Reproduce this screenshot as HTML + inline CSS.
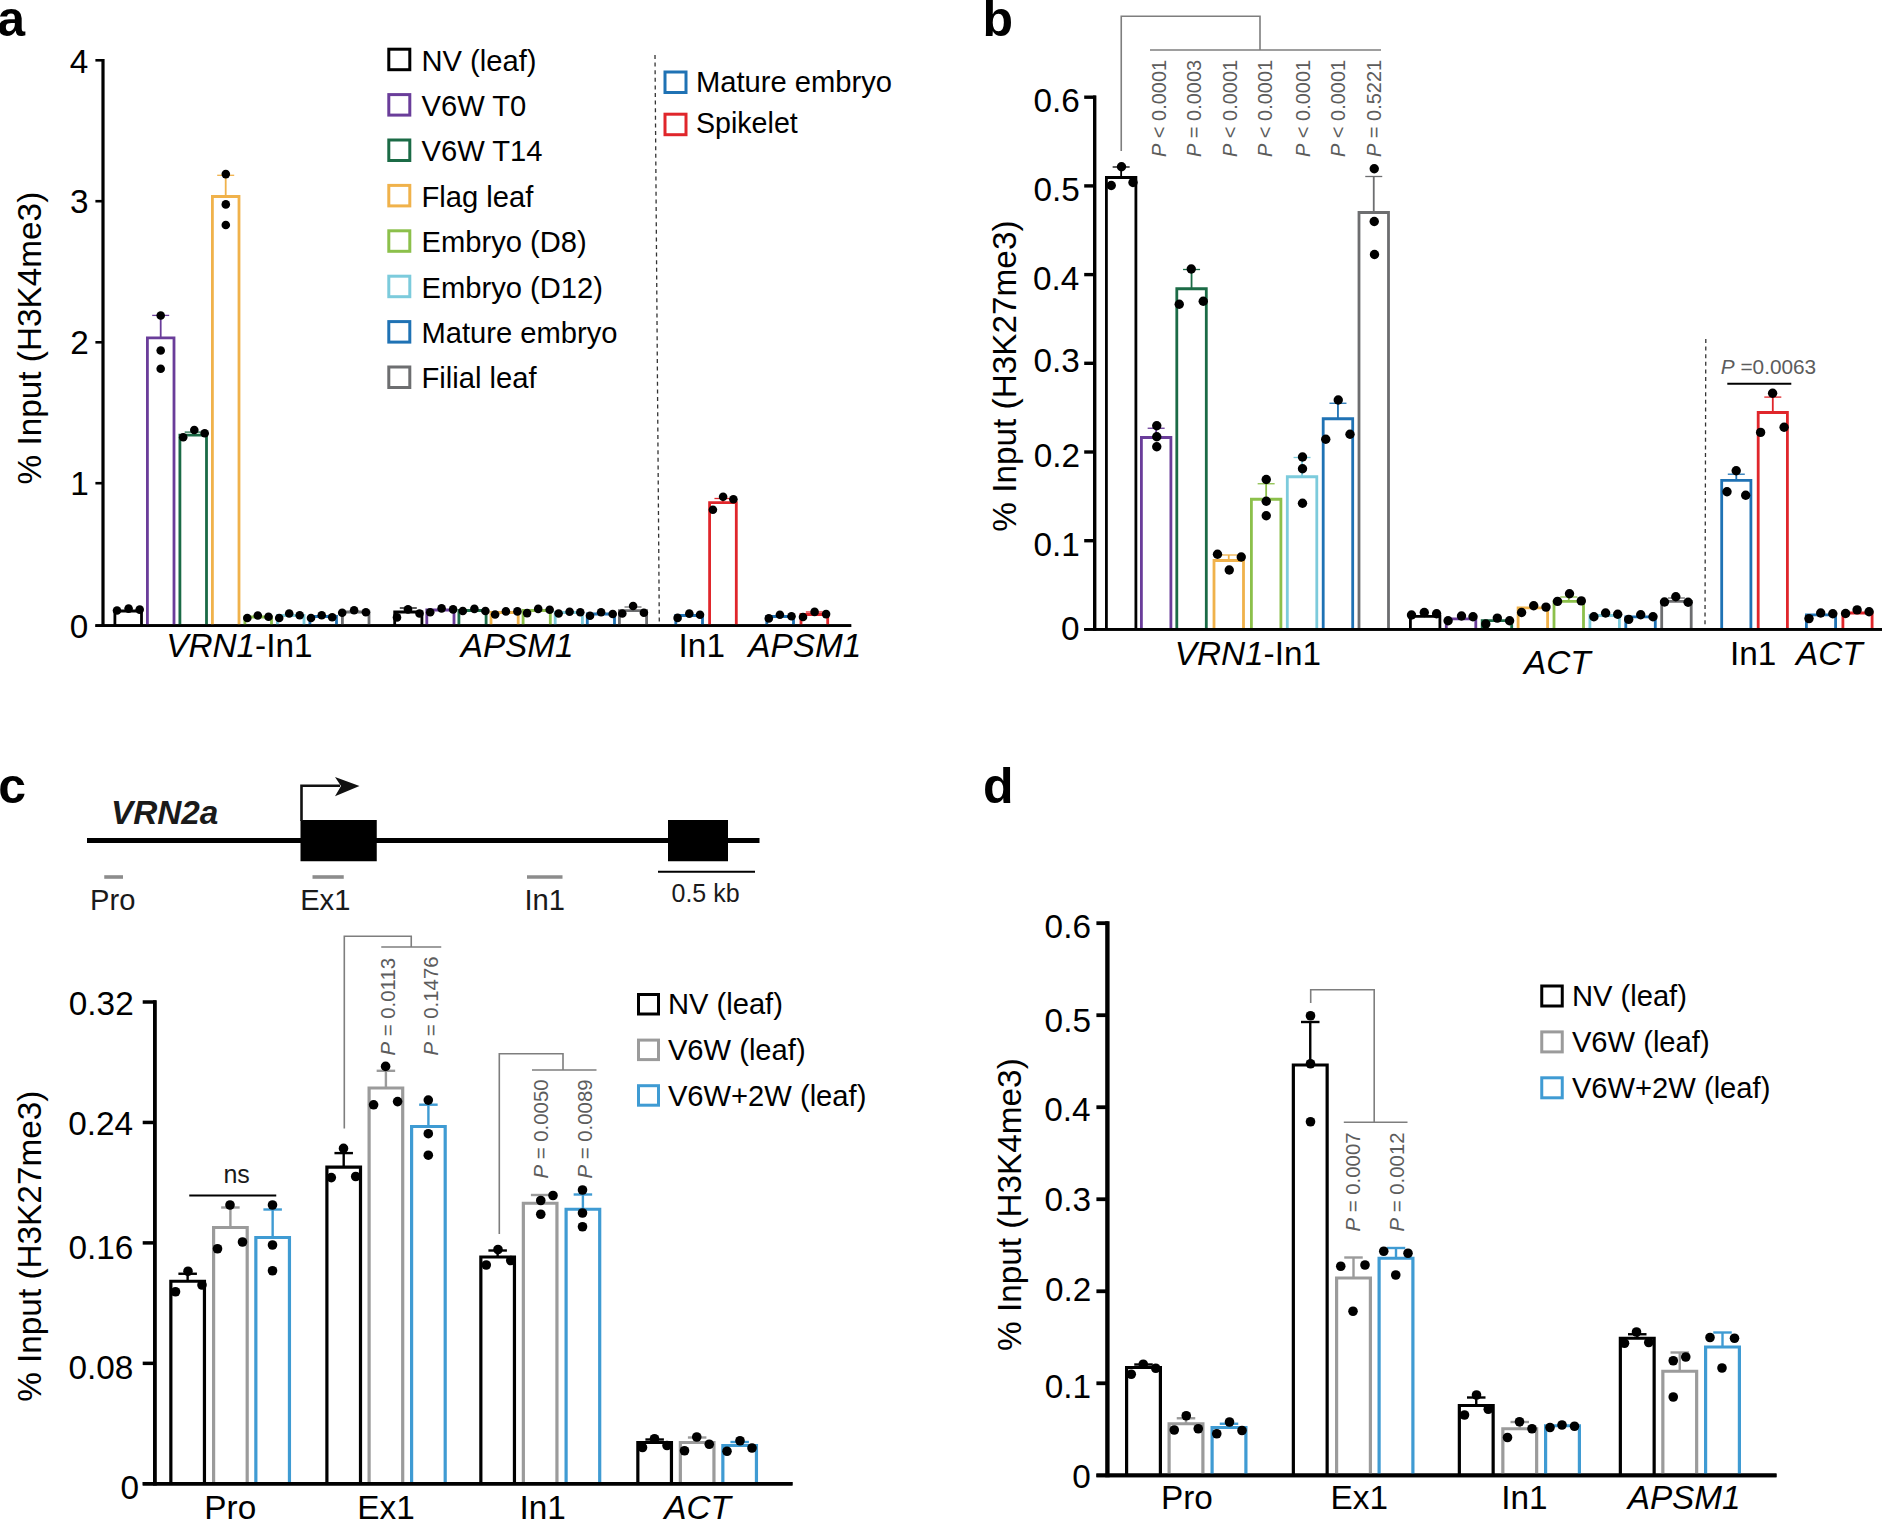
<!DOCTYPE html>
<html><head><meta charset="utf-8"><title>Figure</title>
<style>html,body{margin:0;padding:0;background:#fff}svg{display:block}text{font-family:"Liberation Sans",sans-serif}</style>
</head><body>
<svg width="1882" height="1520" viewBox="0 0 1882 1520">
<rect width="1882" height="1520" fill="#fff"/>
<line x1="103.00" y1="59.00" x2="103.00" y2="627.05" stroke="#000" stroke-width="3.20" stroke-linecap="butt"/>
<line x1="95.40" y1="625.60" x2="851.20" y2="625.60" stroke="#000" stroke-width="2.90" stroke-linecap="butt"/>
<line x1="95.40" y1="483.20" x2="104.00" y2="483.20" stroke="#000" stroke-width="2.60" stroke-linecap="butt"/>
<line x1="95.40" y1="342.30" x2="104.00" y2="342.30" stroke="#000" stroke-width="2.60" stroke-linecap="butt"/>
<line x1="95.40" y1="201.20" x2="104.00" y2="201.20" stroke="#000" stroke-width="2.60" stroke-linecap="butt"/>
<line x1="95.40" y1="60.30" x2="104.00" y2="60.30" stroke="#000" stroke-width="2.60" stroke-linecap="butt"/>
<text x="69.87" y="638.40" font-size="33.33" fill="#000" xml:space="preserve">0</text>
<text x="70.20" y="495.40" font-size="33.33" fill="#000" xml:space="preserve">1</text>
<text x="70.37" y="354.10" font-size="33.33" fill="#000" xml:space="preserve">2</text>
<text x="70.03" y="212.90" font-size="33.33" fill="#000" xml:space="preserve">3</text>
<text x="69.70" y="72.70" font-size="33.33" fill="#000" xml:space="preserve">4</text>
<text transform="translate(41.30 484.42) rotate(-90)" font-size="33.33" fill="#000" xml:space="preserve">% Input (H3K4me3)</text>
<text x="-2.80" y="35.60" font-size="50.00" fill="#000" xml:space="preserve"><tspan font-weight="bold">a</tspan></text>
<polyline points="114.90,625.60 114.90,611.00 141.50,611.00 141.50,625.60" fill="none" stroke="#000" stroke-width="2.80" stroke-linejoin="miter"/>
<polyline points="147.40,625.60 147.40,337.80 174.00,337.80 174.00,625.60" fill="none" stroke="#6a3d9a" stroke-width="2.80" stroke-linejoin="miter"/>
<line x1="160.70" y1="315.40" x2="160.70" y2="337.80" stroke="#6a3d9a" stroke-width="1.80" stroke-linecap="butt"/>
<line x1="152.20" y1="315.40" x2="169.20" y2="315.40" stroke="#6a3d9a" stroke-width="1.30" stroke-linecap="butt"/>
<polyline points="179.90,625.60 179.90,435.10 206.50,435.10 206.50,625.60" fill="none" stroke="#1b6b46" stroke-width="2.80" stroke-linejoin="miter"/>
<line x1="193.20" y1="432.10" x2="193.20" y2="435.10" stroke="#1b6b46" stroke-width="1.80" stroke-linecap="butt"/>
<line x1="184.70" y1="432.10" x2="201.70" y2="432.10" stroke="#1b6b46" stroke-width="1.30" stroke-linecap="butt"/>
<polyline points="212.40,625.60 212.40,196.50 239.00,196.50 239.00,625.60" fill="none" stroke="#f0b24b" stroke-width="2.80" stroke-linejoin="miter"/>
<line x1="225.70" y1="175.30" x2="225.70" y2="196.50" stroke="#f0b24b" stroke-width="1.80" stroke-linecap="butt"/>
<line x1="217.20" y1="175.30" x2="234.20" y2="175.30" stroke="#f0b24b" stroke-width="1.30" stroke-linecap="butt"/>
<polyline points="244.90,625.60 244.90,617.00 271.50,617.00 271.50,625.60" fill="none" stroke="#8cc04b" stroke-width="2.80" stroke-linejoin="miter"/>
<polyline points="277.40,625.60 277.40,615.50 304.00,615.50 304.00,625.60" fill="none" stroke="#7ccbdc" stroke-width="2.80" stroke-linejoin="miter"/>
<polyline points="309.90,625.60 309.90,616.50 336.50,616.50 336.50,625.60" fill="none" stroke="#1f72b4" stroke-width="2.80" stroke-linejoin="miter"/>
<polyline points="342.40,625.60 342.40,612.00 369.00,612.00 369.00,625.60" fill="none" stroke="#6d6e70" stroke-width="2.80" stroke-linejoin="miter"/>
<polyline points="394.70,625.60 394.70,612.00 421.90,612.00 421.90,625.60" fill="none" stroke="#000" stroke-width="2.80" stroke-linejoin="miter"/>
<line x1="408.30" y1="608.00" x2="408.30" y2="612.00" stroke="#000" stroke-width="1.80" stroke-linecap="butt"/>
<line x1="399.80" y1="608.00" x2="416.80" y2="608.00" stroke="#000" stroke-width="1.30" stroke-linecap="butt"/>
<polyline points="426.80,625.60 426.80,610.00 454.00,610.00 454.00,625.60" fill="none" stroke="#6a3d9a" stroke-width="2.80" stroke-linejoin="miter"/>
<polyline points="458.90,625.60 458.90,610.50 486.10,610.50 486.10,625.60" fill="none" stroke="#1b6b46" stroke-width="2.80" stroke-linejoin="miter"/>
<polyline points="491.00,625.60 491.00,612.50 518.20,612.50 518.20,625.60" fill="none" stroke="#f0b24b" stroke-width="2.80" stroke-linejoin="miter"/>
<polyline points="523.10,625.60 523.10,610.50 550.30,610.50 550.30,625.60" fill="none" stroke="#8cc04b" stroke-width="2.80" stroke-linejoin="miter"/>
<polyline points="555.20,625.60 555.20,612.50 582.40,612.50 582.40,625.60" fill="none" stroke="#7ccbdc" stroke-width="2.80" stroke-linejoin="miter"/>
<polyline points="587.30,625.60 587.30,614.00 614.50,614.00 614.50,625.60" fill="none" stroke="#1f72b4" stroke-width="2.80" stroke-linejoin="miter"/>
<polyline points="619.40,625.60 619.40,610.70 646.60,610.70 646.60,625.60" fill="none" stroke="#6d6e70" stroke-width="2.80" stroke-linejoin="miter"/>
<line x1="633.00" y1="607.00" x2="633.00" y2="610.70" stroke="#6d6e70" stroke-width="1.80" stroke-linecap="butt"/>
<line x1="624.50" y1="607.00" x2="641.50" y2="607.00" stroke="#6d6e70" stroke-width="1.30" stroke-linecap="butt"/>
<polyline points="675.80,625.60 675.80,615.50 702.50,615.50 702.50,625.60" fill="none" stroke="#1f72b4" stroke-width="2.80" stroke-linejoin="miter"/>
<polyline points="709.60,625.60 709.60,502.70 736.30,502.70 736.30,625.60" fill="none" stroke="#e0262b" stroke-width="2.80" stroke-linejoin="miter"/>
<line x1="722.95" y1="498.50" x2="722.95" y2="502.70" stroke="#e0262b" stroke-width="1.80" stroke-linecap="butt"/>
<line x1="714.45" y1="498.50" x2="731.45" y2="498.50" stroke="#e0262b" stroke-width="1.30" stroke-linecap="butt"/>
<polyline points="766.80,625.60 766.80,616.50 793.50,616.50 793.50,625.60" fill="none" stroke="#1f72b4" stroke-width="2.80" stroke-linejoin="miter"/>
<polyline points="801.00,625.60 801.00,614.50 827.70,614.50 827.70,625.60" fill="none" stroke="#e0262b" stroke-width="2.80" stroke-linejoin="miter"/>
<line x1="814.35" y1="612.00" x2="814.35" y2="614.50" stroke="#e0262b" stroke-width="1.80" stroke-linecap="butt"/>
<line x1="805.85" y1="612.00" x2="822.85" y2="612.00" stroke="#e0262b" stroke-width="1.30" stroke-linecap="butt"/>
<line x1="95.40" y1="625.60" x2="851.20" y2="625.60" stroke="#000" stroke-width="2.90" stroke-linecap="butt"/>
<circle cx="117.00" cy="610.50" r="4.30" fill="#000"/>
<circle cx="128.60" cy="608.60" r="4.30" fill="#000"/>
<circle cx="139.70" cy="609.60" r="4.30" fill="#000"/>
<circle cx="160.70" cy="315.50" r="4.30" fill="#000"/>
<circle cx="160.70" cy="350.50" r="4.30" fill="#000"/>
<circle cx="160.70" cy="368.70" r="4.30" fill="#000"/>
<circle cx="183.20" cy="437.20" r="4.30" fill="#000"/>
<circle cx="194.30" cy="430.00" r="4.30" fill="#000"/>
<circle cx="204.70" cy="433.20" r="4.30" fill="#000"/>
<circle cx="225.80" cy="174.10" r="4.30" fill="#000"/>
<circle cx="225.80" cy="204.40" r="4.30" fill="#000"/>
<circle cx="225.80" cy="225.00" r="4.30" fill="#000"/>
<circle cx="247.30" cy="618.00" r="4.30" fill="#000"/>
<circle cx="257.80" cy="615.50" r="4.30" fill="#000"/>
<circle cx="268.50" cy="616.70" r="4.30" fill="#000"/>
<circle cx="279.20" cy="618.00" r="4.30" fill="#000"/>
<circle cx="289.20" cy="613.50" r="4.30" fill="#000"/>
<circle cx="299.70" cy="615.30" r="4.30" fill="#000"/>
<circle cx="311.00" cy="618.00" r="4.30" fill="#000"/>
<circle cx="321.70" cy="615.30" r="4.30" fill="#000"/>
<circle cx="332.20" cy="617.30" r="4.30" fill="#000"/>
<circle cx="342.20" cy="612.80" r="4.30" fill="#000"/>
<circle cx="354.10" cy="610.30" r="4.30" fill="#000"/>
<circle cx="365.90" cy="612.30" r="4.30" fill="#000"/>
<circle cx="397.00" cy="617.40" r="4.30" fill="#000"/>
<circle cx="408.00" cy="609.40" r="4.30" fill="#000"/>
<circle cx="419.50" cy="613.50" r="4.30" fill="#000"/>
<circle cx="430.20" cy="612.30" r="4.30" fill="#000"/>
<circle cx="441.60" cy="608.40" r="4.30" fill="#000"/>
<circle cx="453.10" cy="609.40" r="4.30" fill="#000"/>
<circle cx="462.80" cy="611.00" r="4.30" fill="#000"/>
<circle cx="474.40" cy="608.90" r="4.30" fill="#000"/>
<circle cx="485.40" cy="611.00" r="4.30" fill="#000"/>
<circle cx="495.10" cy="614.50" r="4.30" fill="#000"/>
<circle cx="505.90" cy="611.40" r="4.30" fill="#000"/>
<circle cx="517.40" cy="611.40" r="4.30" fill="#000"/>
<circle cx="527.10" cy="613.10" r="4.30" fill="#000"/>
<circle cx="538.20" cy="608.90" r="4.30" fill="#000"/>
<circle cx="549.70" cy="609.70" r="4.30" fill="#000"/>
<circle cx="558.60" cy="613.50" r="4.30" fill="#000"/>
<circle cx="569.60" cy="611.80" r="4.30" fill="#000"/>
<circle cx="580.30" cy="612.30" r="4.30" fill="#000"/>
<circle cx="590.00" cy="615.70" r="4.30" fill="#000"/>
<circle cx="601.10" cy="612.30" r="4.30" fill="#000"/>
<circle cx="612.70" cy="614.00" r="4.30" fill="#000"/>
<circle cx="622.30" cy="613.50" r="4.30" fill="#000"/>
<circle cx="633.10" cy="606.00" r="4.30" fill="#000"/>
<circle cx="643.90" cy="612.80" r="4.30" fill="#000"/>
<circle cx="677.60" cy="617.90" r="4.30" fill="#000"/>
<circle cx="689.30" cy="613.60" r="4.30" fill="#000"/>
<circle cx="700.00" cy="614.80" r="4.30" fill="#000"/>
<circle cx="712.90" cy="509.80" r="4.30" fill="#000"/>
<circle cx="723.10" cy="496.80" r="4.30" fill="#000"/>
<circle cx="733.40" cy="499.30" r="4.30" fill="#000"/>
<circle cx="768.80" cy="618.40" r="4.30" fill="#000"/>
<circle cx="779.90" cy="614.80" r="4.30" fill="#000"/>
<circle cx="791.50" cy="616.20" r="4.30" fill="#000"/>
<circle cx="803.00" cy="617.00" r="4.30" fill="#000"/>
<circle cx="814.60" cy="611.90" r="4.30" fill="#000"/>
<circle cx="826.10" cy="614.10" r="4.30" fill="#000"/>
<line x1="655" y1="55" x2="659.3" y2="624" stroke="#333" stroke-width="1.3" stroke-dasharray="4 3.6"/>
<text x="166.17" y="657.30" font-size="33.33" fill="#000" xml:space="preserve"><tspan font-style="italic">VRN1</tspan><tspan>-In1</tspan></text>
<text x="460.67" y="657.30" font-size="33.33" fill="#000" xml:space="preserve"><tspan font-style="italic">APSM1</tspan></text>
<text x="678.60" y="657.30" font-size="33.33" fill="#000" xml:space="preserve">In1</text>
<text x="748.27" y="657.30" font-size="33.33" fill="#000" xml:space="preserve"><tspan font-style="italic">APSM1</tspan></text>
<rect x="388.80" y="49.20" width="21.00" height="20.50" fill="none" stroke="#000" stroke-width="3.00"/>
<text x="421.50" y="70.50" font-size="29.17" fill="#000" xml:space="preserve">NV (leaf)</text>
<rect x="388.80" y="94.60" width="21.00" height="20.50" fill="none" stroke="#6a3d9a" stroke-width="3.00"/>
<text x="421.50" y="115.90" font-size="29.17" fill="#000" xml:space="preserve">V6W T0</text>
<rect x="388.80" y="140.00" width="21.00" height="20.50" fill="none" stroke="#1b6b46" stroke-width="3.00"/>
<text x="421.50" y="161.30" font-size="29.17" fill="#000" xml:space="preserve">V6W T14</text>
<rect x="388.80" y="185.40" width="21.00" height="20.50" fill="none" stroke="#f0b24b" stroke-width="3.00"/>
<text x="421.50" y="206.70" font-size="29.17" fill="#000" xml:space="preserve">Flag leaf</text>
<rect x="388.80" y="230.80" width="21.00" height="20.50" fill="none" stroke="#8cc04b" stroke-width="3.00"/>
<text x="421.50" y="252.10" font-size="29.17" fill="#000" xml:space="preserve">Embryo (D8)</text>
<rect x="388.80" y="276.20" width="21.00" height="20.50" fill="none" stroke="#7ccbdc" stroke-width="3.00"/>
<text x="421.50" y="297.50" font-size="29.17" fill="#000" xml:space="preserve">Embryo (D12)</text>
<rect x="388.80" y="321.60" width="21.00" height="20.50" fill="none" stroke="#1f72b4" stroke-width="3.00"/>
<text x="421.50" y="342.90" font-size="29.17" fill="#000" xml:space="preserve">Mature embryo</text>
<rect x="388.80" y="367.00" width="21.00" height="20.50" fill="none" stroke="#6d6e70" stroke-width="3.00"/>
<text x="421.50" y="388.30" font-size="29.17" fill="#000" xml:space="preserve">Filial leaf</text>
<rect x="665.00" y="72.00" width="21.00" height="20.50" fill="none" stroke="#1f72b4" stroke-width="3.00"/>
<text x="696.00" y="92.40" font-size="29.17" fill="#000" xml:space="preserve">Mature embryo</text>
<rect x="665.00" y="114.20" width="21.00" height="20.50" fill="none" stroke="#e0262b" stroke-width="3.00"/>
<text x="696.00" y="132.70" font-size="28.60" fill="#000" xml:space="preserve">Spikelet</text>
<line x1="1094.70" y1="95.50" x2="1094.70" y2="630.85" stroke="#000" stroke-width="3.40" stroke-linecap="butt"/>
<line x1="1084.20" y1="629.40" x2="1882.00" y2="629.40" stroke="#000" stroke-width="2.90" stroke-linecap="butt"/>
<line x1="1084.20" y1="540.70" x2="1095.70" y2="540.70" stroke="#000" stroke-width="3.40" stroke-linecap="butt"/>
<line x1="1084.20" y1="452.00" x2="1095.70" y2="452.00" stroke="#000" stroke-width="3.40" stroke-linecap="butt"/>
<line x1="1084.20" y1="363.30" x2="1095.70" y2="363.30" stroke="#000" stroke-width="3.40" stroke-linecap="butt"/>
<line x1="1084.20" y1="274.60" x2="1095.70" y2="274.60" stroke="#000" stroke-width="3.40" stroke-linecap="butt"/>
<line x1="1084.20" y1="185.90" x2="1095.70" y2="185.90" stroke="#000" stroke-width="3.40" stroke-linecap="butt"/>
<line x1="1084.20" y1="97.20" x2="1095.70" y2="97.20" stroke="#000" stroke-width="3.40" stroke-linecap="butt"/>
<text x="1061.07" y="640.30" font-size="33.33" fill="#000" xml:space="preserve">0</text>
<text x="1033.57" y="555.80" font-size="33.33" fill="#000" xml:space="preserve">0.1</text>
<text x="1033.73" y="467.30" font-size="33.33" fill="#000" xml:space="preserve">0.2</text>
<text x="1033.40" y="372.40" font-size="33.33" fill="#000" xml:space="preserve">0.3</text>
<text x="1033.07" y="290.40" font-size="33.33" fill="#000" xml:space="preserve">0.4</text>
<text x="1033.40" y="201.40" font-size="33.33" fill="#000" xml:space="preserve">0.5</text>
<text x="1033.40" y="111.60" font-size="33.33" fill="#000" xml:space="preserve">0.6</text>
<text transform="translate(1015.60 531.67) rotate(-90)" font-size="33.33" fill="#000" xml:space="preserve">% Input (H3K27me3)</text>
<text x="982.55" y="35.90" font-size="50.00" fill="#000" xml:space="preserve"><tspan font-weight="bold">b</tspan></text>
<polyline points="1106.40,629.40 1106.40,177.50 1135.90,177.50 1135.90,629.40" fill="none" stroke="#000" stroke-width="2.80" stroke-linejoin="miter"/>
<line x1="1121.15" y1="167.00" x2="1121.15" y2="177.50" stroke="#000" stroke-width="1.80" stroke-linecap="butt"/>
<line x1="1112.65" y1="167.00" x2="1129.65" y2="167.00" stroke="#000" stroke-width="1.30" stroke-linecap="butt"/>
<polyline points="1141.40,629.40 1141.40,437.50 1170.90,437.50 1170.90,629.40" fill="none" stroke="#6a3d9a" stroke-width="2.80" stroke-linejoin="miter"/>
<line x1="1156.15" y1="428.25" x2="1156.15" y2="437.50" stroke="#6a3d9a" stroke-width="1.80" stroke-linecap="butt"/>
<line x1="1147.65" y1="428.25" x2="1164.65" y2="428.25" stroke="#6a3d9a" stroke-width="1.30" stroke-linecap="butt"/>
<polyline points="1176.80,629.40 1176.80,288.75 1206.30,288.75 1206.30,629.40" fill="none" stroke="#1b6b46" stroke-width="2.80" stroke-linejoin="miter"/>
<line x1="1191.55" y1="269.50" x2="1191.55" y2="288.75" stroke="#1b6b46" stroke-width="1.80" stroke-linecap="butt"/>
<line x1="1183.05" y1="269.50" x2="1200.05" y2="269.50" stroke="#1b6b46" stroke-width="1.30" stroke-linecap="butt"/>
<polyline points="1214.00,629.40 1214.00,560.50 1243.50,560.50 1243.50,629.40" fill="none" stroke="#f0b24b" stroke-width="2.80" stroke-linejoin="miter"/>
<line x1="1228.75" y1="555.00" x2="1228.75" y2="560.50" stroke="#f0b24b" stroke-width="1.80" stroke-linecap="butt"/>
<line x1="1220.25" y1="555.00" x2="1237.25" y2="555.00" stroke="#f0b24b" stroke-width="1.30" stroke-linecap="butt"/>
<polyline points="1251.40,629.40 1251.40,499.25 1280.90,499.25 1280.90,629.40" fill="none" stroke="#8cc04b" stroke-width="2.80" stroke-linejoin="miter"/>
<line x1="1266.15" y1="483.75" x2="1266.15" y2="499.25" stroke="#8cc04b" stroke-width="1.80" stroke-linecap="butt"/>
<line x1="1257.65" y1="483.75" x2="1274.65" y2="483.75" stroke="#8cc04b" stroke-width="1.30" stroke-linecap="butt"/>
<polyline points="1287.30,629.40 1287.30,476.75 1316.80,476.75 1316.80,629.40" fill="none" stroke="#7ccbdc" stroke-width="2.80" stroke-linejoin="miter"/>
<line x1="1302.05" y1="457.50" x2="1302.05" y2="476.75" stroke="#7ccbdc" stroke-width="1.80" stroke-linecap="butt"/>
<line x1="1293.55" y1="457.50" x2="1310.55" y2="457.50" stroke="#7ccbdc" stroke-width="1.30" stroke-linecap="butt"/>
<polyline points="1323.20,629.40 1323.20,418.75 1352.70,418.75 1352.70,629.40" fill="none" stroke="#1f72b4" stroke-width="2.80" stroke-linejoin="miter"/>
<line x1="1337.95" y1="403.25" x2="1337.95" y2="418.75" stroke="#1f72b4" stroke-width="1.80" stroke-linecap="butt"/>
<line x1="1329.45" y1="403.25" x2="1346.45" y2="403.25" stroke="#1f72b4" stroke-width="1.30" stroke-linecap="butt"/>
<polyline points="1359.00,629.40 1359.00,212.50 1388.50,212.50 1388.50,629.40" fill="none" stroke="#6d6e70" stroke-width="2.80" stroke-linejoin="miter"/>
<line x1="1373.75" y1="176.50" x2="1373.75" y2="212.50" stroke="#6d6e70" stroke-width="1.80" stroke-linecap="butt"/>
<line x1="1365.25" y1="176.50" x2="1382.25" y2="176.50" stroke="#6d6e70" stroke-width="1.30" stroke-linecap="butt"/>
<polyline points="1410.40,629.40 1410.40,616.30 1439.90,616.30 1439.90,629.40" fill="none" stroke="#000" stroke-width="2.80" stroke-linejoin="miter"/>
<polyline points="1446.30,629.40 1446.30,618.90 1475.80,618.90 1475.80,629.40" fill="none" stroke="#6a3d9a" stroke-width="2.80" stroke-linejoin="miter"/>
<polyline points="1482.20,629.40 1482.20,620.70 1511.70,620.70 1511.70,629.40" fill="none" stroke="#1b6b46" stroke-width="2.80" stroke-linejoin="miter"/>
<polyline points="1518.10,629.40 1518.10,607.90 1547.60,607.90 1547.60,629.40" fill="none" stroke="#f0b24b" stroke-width="2.80" stroke-linejoin="miter"/>
<polyline points="1554.00,629.40 1554.00,601.40 1583.50,601.40 1583.50,629.40" fill="none" stroke="#8cc04b" stroke-width="2.80" stroke-linejoin="miter"/>
<line x1="1568.75" y1="597.00" x2="1568.75" y2="601.40" stroke="#8cc04b" stroke-width="1.80" stroke-linecap="butt"/>
<line x1="1560.25" y1="597.00" x2="1577.25" y2="597.00" stroke="#8cc04b" stroke-width="1.30" stroke-linecap="butt"/>
<polyline points="1589.90,629.40 1589.90,615.50 1619.40,615.50 1619.40,629.40" fill="none" stroke="#7ccbdc" stroke-width="2.80" stroke-linejoin="miter"/>
<polyline points="1625.80,629.40 1625.80,616.80 1655.30,616.80 1655.30,629.40" fill="none" stroke="#1f72b4" stroke-width="2.80" stroke-linejoin="miter"/>
<polyline points="1661.70,629.40 1661.70,601.40 1691.20,601.40 1691.20,629.40" fill="none" stroke="#6d6e70" stroke-width="2.80" stroke-linejoin="miter"/>
<line x1="1676.45" y1="598.00" x2="1676.45" y2="601.40" stroke="#6d6e70" stroke-width="1.80" stroke-linecap="butt"/>
<line x1="1667.95" y1="598.00" x2="1684.95" y2="598.00" stroke="#6d6e70" stroke-width="1.30" stroke-linecap="butt"/>
<polyline points="1721.70,629.40 1721.70,480.30 1750.90,480.30 1750.90,629.40" fill="none" stroke="#1f72b4" stroke-width="2.80" stroke-linejoin="miter"/>
<line x1="1736.30" y1="474.20" x2="1736.30" y2="480.30" stroke="#1f72b4" stroke-width="1.80" stroke-linecap="butt"/>
<line x1="1727.80" y1="474.20" x2="1744.80" y2="474.20" stroke="#1f72b4" stroke-width="1.30" stroke-linecap="butt"/>
<polyline points="1758.20,629.40 1758.20,412.50 1787.40,412.50 1787.40,629.40" fill="none" stroke="#e0262b" stroke-width="2.80" stroke-linejoin="miter"/>
<line x1="1772.80" y1="397.10" x2="1772.80" y2="412.50" stroke="#e0262b" stroke-width="1.80" stroke-linecap="butt"/>
<line x1="1764.30" y1="397.10" x2="1781.30" y2="397.10" stroke="#e0262b" stroke-width="1.30" stroke-linecap="butt"/>
<polyline points="1806.40,629.40 1806.40,614.80 1835.60,614.80 1835.60,629.40" fill="none" stroke="#1f72b4" stroke-width="2.80" stroke-linejoin="miter"/>
<polyline points="1842.90,629.40 1842.90,613.00 1872.10,613.00 1872.10,629.40" fill="none" stroke="#e0262b" stroke-width="2.80" stroke-linejoin="miter"/>
<line x1="1084.20" y1="629.40" x2="1882.00" y2="629.40" stroke="#000" stroke-width="2.90" stroke-linecap="butt"/>
<circle cx="1111.25" cy="185.50" r="4.70" fill="#000"/>
<circle cx="1121.50" cy="166.75" r="4.70" fill="#000"/>
<circle cx="1133.00" cy="182.50" r="4.70" fill="#000"/>
<circle cx="1156.75" cy="425.75" r="4.70" fill="#000"/>
<circle cx="1156.75" cy="436.75" r="4.70" fill="#000"/>
<circle cx="1156.75" cy="446.75" r="4.70" fill="#000"/>
<circle cx="1179.25" cy="304.25" r="4.70" fill="#000"/>
<circle cx="1191.25" cy="269.00" r="4.70" fill="#000"/>
<circle cx="1203.25" cy="301.25" r="4.70" fill="#000"/>
<circle cx="1217.50" cy="554.25" r="4.70" fill="#000"/>
<circle cx="1229.25" cy="570.00" r="4.70" fill="#000"/>
<circle cx="1241.25" cy="557.00" r="4.70" fill="#000"/>
<circle cx="1266.25" cy="479.50" r="4.70" fill="#000"/>
<circle cx="1266.25" cy="501.25" r="4.70" fill="#000"/>
<circle cx="1266.25" cy="515.75" r="4.70" fill="#000"/>
<circle cx="1302.50" cy="457.00" r="4.70" fill="#000"/>
<circle cx="1302.50" cy="468.75" r="4.70" fill="#000"/>
<circle cx="1302.50" cy="503.25" r="4.70" fill="#000"/>
<circle cx="1325.75" cy="439.25" r="4.70" fill="#000"/>
<circle cx="1338.25" cy="400.00" r="4.70" fill="#000"/>
<circle cx="1350.00" cy="434.25" r="4.70" fill="#000"/>
<circle cx="1374.25" cy="168.75" r="4.70" fill="#000"/>
<circle cx="1374.25" cy="221.50" r="4.70" fill="#000"/>
<circle cx="1374.50" cy="254.50" r="4.70" fill="#000"/>
<circle cx="1411.50" cy="615.00" r="4.70" fill="#000"/>
<circle cx="1424.30" cy="612.50" r="4.70" fill="#000"/>
<circle cx="1436.60" cy="613.70" r="4.70" fill="#000"/>
<circle cx="1448.10" cy="620.70" r="4.70" fill="#000"/>
<circle cx="1461.50" cy="616.00" r="4.70" fill="#000"/>
<circle cx="1473.00" cy="616.80" r="4.70" fill="#000"/>
<circle cx="1485.80" cy="624.00" r="4.70" fill="#000"/>
<circle cx="1497.30" cy="618.10" r="4.70" fill="#000"/>
<circle cx="1509.60" cy="620.70" r="4.70" fill="#000"/>
<circle cx="1521.60" cy="612.50" r="4.70" fill="#000"/>
<circle cx="1533.70" cy="605.80" r="4.70" fill="#000"/>
<circle cx="1546.00" cy="607.10" r="4.70" fill="#000"/>
<circle cx="1557.50" cy="601.40" r="4.70" fill="#000"/>
<circle cx="1569.50" cy="593.80" r="4.70" fill="#000"/>
<circle cx="1581.30" cy="600.90" r="4.70" fill="#000"/>
<circle cx="1593.90" cy="616.80" r="4.70" fill="#000"/>
<circle cx="1605.60" cy="613.00" r="4.70" fill="#000"/>
<circle cx="1617.70" cy="614.30" r="4.70" fill="#000"/>
<circle cx="1628.70" cy="619.40" r="4.70" fill="#000"/>
<circle cx="1640.70" cy="614.80" r="4.70" fill="#000"/>
<circle cx="1653.00" cy="616.80" r="4.70" fill="#000"/>
<circle cx="1664.50" cy="602.00" r="4.70" fill="#000"/>
<circle cx="1675.80" cy="596.80" r="4.70" fill="#000"/>
<circle cx="1688.10" cy="602.20" r="4.70" fill="#000"/>
<circle cx="1727.00" cy="491.80" r="4.70" fill="#000"/>
<circle cx="1736.20" cy="470.80" r="4.70" fill="#000"/>
<circle cx="1745.70" cy="495.20" r="4.70" fill="#000"/>
<circle cx="1760.60" cy="432.40" r="4.70" fill="#000"/>
<circle cx="1772.60" cy="393.30" r="4.70" fill="#000"/>
<circle cx="1784.10" cy="427.30" r="4.70" fill="#000"/>
<circle cx="1809.00" cy="618.60" r="4.70" fill="#000"/>
<circle cx="1820.70" cy="613.00" r="4.70" fill="#000"/>
<circle cx="1832.80" cy="613.70" r="4.70" fill="#000"/>
<circle cx="1845.60" cy="613.50" r="4.70" fill="#000"/>
<circle cx="1857.10" cy="609.90" r="4.70" fill="#000"/>
<circle cx="1869.10" cy="611.70" r="4.70" fill="#000"/>
<line x1="1705.8" y1="339" x2="1705" y2="627" stroke="#333" stroke-width="1.3" stroke-dasharray="4 3.6"/>
<polyline points="1121.25,151.00 1121.25,16.25 1260.00,16.25 1260.00,50.00" fill="none" stroke="#7e7e7e" stroke-width="1.60" stroke-linejoin="miter"/>
<line x1="1150.00" y1="50.00" x2="1381.00" y2="50.00" stroke="#7e7e7e" stroke-width="1.60" stroke-linecap="butt"/>
<text transform="translate(1165.50 157.10) rotate(-90)" font-size="20.00" fill="#5c5c5c" xml:space="preserve"><tspan font-style="italic">P</tspan><tspan> &lt; 0.0001</tspan></text>
<text transform="translate(1200.50 157.10) rotate(-90)" font-size="20.00" fill="#5c5c5c" xml:space="preserve"><tspan font-style="italic">P</tspan><tspan> = 0.0003</tspan></text>
<text transform="translate(1236.50 157.10) rotate(-90)" font-size="20.00" fill="#5c5c5c" xml:space="preserve"><tspan font-style="italic">P</tspan><tspan> &lt; 0.0001</tspan></text>
<text transform="translate(1272.00 157.10) rotate(-90)" font-size="20.00" fill="#5c5c5c" xml:space="preserve"><tspan font-style="italic">P</tspan><tspan> &lt; 0.0001</tspan></text>
<text transform="translate(1309.50 157.10) rotate(-90)" font-size="20.00" fill="#5c5c5c" xml:space="preserve"><tspan font-style="italic">P</tspan><tspan> &lt; 0.0001</tspan></text>
<text transform="translate(1345.00 157.10) rotate(-90)" font-size="20.00" fill="#5c5c5c" xml:space="preserve"><tspan font-style="italic">P</tspan><tspan> &lt; 0.0001</tspan></text>
<text transform="translate(1380.50 157.10) rotate(-90)" font-size="20.00" fill="#5c5c5c" xml:space="preserve"><tspan font-style="italic">P</tspan><tspan> = 0.5221</tspan></text>
<text x="1720.78" y="374.00" font-size="20.80" fill="#5c5c5c" xml:space="preserve"><tspan font-style="italic">P</tspan><tspan> =0.0063</tspan></text>
<line x1="1727.30" y1="383.80" x2="1791.30" y2="383.80" stroke="#000" stroke-width="2.00" stroke-linecap="butt"/>
<text x="1174.67" y="665.00" font-size="33.33" fill="#000" xml:space="preserve"><tspan font-style="italic">VRN1</tspan><tspan>-In1</tspan></text>
<text x="1524.07" y="674.40" font-size="33.33" fill="#000" xml:space="preserve"><tspan font-style="italic">ACT</tspan></text>
<text x="1730.00" y="665.00" font-size="33.33" fill="#000" xml:space="preserve">In1</text>
<text x="1795.97" y="665.00" font-size="33.33" fill="#000" xml:space="preserve"><tspan font-style="italic">ACT</tspan></text>
<line x1="154.90" y1="1000.25" x2="154.90" y2="1485.55" stroke="#000" stroke-width="3.80" stroke-linecap="butt"/>
<line x1="142.70" y1="1483.80" x2="792.50" y2="1483.80" stroke="#000" stroke-width="3.50" stroke-linecap="butt"/>
<line x1="142.70" y1="1363.35" x2="155.90" y2="1363.35" stroke="#000" stroke-width="3.50" stroke-linecap="butt"/>
<line x1="142.70" y1="1242.90" x2="155.90" y2="1242.90" stroke="#000" stroke-width="3.50" stroke-linecap="butt"/>
<line x1="142.70" y1="1122.45" x2="155.90" y2="1122.45" stroke="#000" stroke-width="3.50" stroke-linecap="butt"/>
<line x1="142.70" y1="1002.00" x2="155.90" y2="1002.00" stroke="#000" stroke-width="3.50" stroke-linecap="butt"/>
<text x="120.47" y="1498.50" font-size="33.33" fill="#000" xml:space="preserve">0</text>
<text x="68.50" y="1378.95" font-size="33.33" fill="#000" xml:space="preserve">0.08</text>
<text x="68.50" y="1258.80" font-size="33.33" fill="#000" xml:space="preserve">0.16</text>
<text x="68.17" y="1134.85" font-size="33.33" fill="#000" xml:space="preserve">0.24</text>
<text x="68.83" y="1015.00" font-size="33.33" fill="#000" xml:space="preserve">0.32</text>
<text transform="translate(41.40 1401.87) rotate(-90)" font-size="33.33" fill="#000" xml:space="preserve">% Input (H3K27me3)</text>
<text x="-1.70" y="803.20" font-size="50.00" fill="#000" xml:space="preserve"><tspan font-weight="bold">c</tspan></text>
<text x="110.92" y="823.75" font-size="33.33" fill="#1a1a1a" xml:space="preserve"><tspan font-weight="bold" font-style="italic">VRN2a</tspan></text>
<line x1="87.00" y1="840.50" x2="759.50" y2="840.50" stroke="#000" stroke-width="5.00" stroke-linecap="butt"/>
<rect x="300.50" y="820.00" width="76.25" height="41.25" fill="#000" stroke="none" stroke-width="0.00"/>
<rect x="668.00" y="820.00" width="60.00" height="41.25" fill="#000" stroke="none" stroke-width="0.00"/>
<polyline points="301.50,821.00 301.50,785.75 340.00,785.75" fill="none" stroke="#111" stroke-width="2.60" stroke-linejoin="miter"/>
<path d="M359.5 786 L335 777 L341 786 L335 796.3 Z" fill="#111"/>
<line x1="104.25" y1="877.00" x2="123.00" y2="877.00" stroke="#8c8c8c" stroke-width="3.60" stroke-linecap="butt"/>
<line x1="312.50" y1="877.00" x2="343.75" y2="877.00" stroke="#8c8c8c" stroke-width="3.60" stroke-linecap="butt"/>
<line x1="527.00" y1="877.00" x2="562.50" y2="877.00" stroke="#8c8c8c" stroke-width="3.60" stroke-linecap="butt"/>
<text x="89.97" y="909.50" font-size="29.17" fill="#1a1a1a" xml:space="preserve">Pro</text>
<text x="300.17" y="909.50" font-size="29.17" fill="#1a1a1a" xml:space="preserve">Ex1</text>
<text x="524.38" y="909.50" font-size="29.17" fill="#1a1a1a" xml:space="preserve">In1</text>
<line x1="658.00" y1="871.75" x2="755.00" y2="871.75" stroke="#000" stroke-width="1.80" stroke-linecap="butt"/>
<text x="671.50" y="901.75" font-size="25.00" fill="#1a1a1a" xml:space="preserve">0.5 kb</text>
<polyline points="170.85,1483.80 170.85,1281.25 204.45,1281.25 204.45,1483.80" fill="none" stroke="#000" stroke-width="3.20" stroke-linejoin="miter"/>
<line x1="187.65" y1="1273.75" x2="187.65" y2="1281.25" stroke="#000" stroke-width="2.40" stroke-linecap="butt"/>
<line x1="178.40" y1="1273.75" x2="196.90" y2="1273.75" stroke="#000" stroke-width="2.40" stroke-linecap="butt"/>
<polyline points="213.60,1483.80 213.60,1227.50 247.20,1227.50 247.20,1483.80" fill="none" stroke="#9b9b9b" stroke-width="3.20" stroke-linejoin="miter"/>
<line x1="230.40" y1="1207.50" x2="230.40" y2="1227.50" stroke="#9b9b9b" stroke-width="2.40" stroke-linecap="butt"/>
<line x1="221.15" y1="1207.50" x2="239.65" y2="1207.50" stroke="#9b9b9b" stroke-width="2.40" stroke-linecap="butt"/>
<polyline points="255.85,1483.80 255.85,1237.50 289.45,1237.50 289.45,1483.80" fill="none" stroke="#3f9bd3" stroke-width="3.20" stroke-linejoin="miter"/>
<line x1="272.65" y1="1209.50" x2="272.65" y2="1237.50" stroke="#3f9bd3" stroke-width="2.40" stroke-linecap="butt"/>
<line x1="263.40" y1="1209.50" x2="281.90" y2="1209.50" stroke="#3f9bd3" stroke-width="2.40" stroke-linecap="butt"/>
<polyline points="326.90,1483.80 326.90,1167.20 360.50,1167.20 360.50,1483.80" fill="none" stroke="#000" stroke-width="3.20" stroke-linejoin="miter"/>
<line x1="343.70" y1="1153.10" x2="343.70" y2="1167.20" stroke="#000" stroke-width="2.40" stroke-linecap="butt"/>
<line x1="334.45" y1="1153.10" x2="352.95" y2="1153.10" stroke="#000" stroke-width="2.40" stroke-linecap="butt"/>
<polyline points="369.10,1483.80 369.10,1088.00 402.70,1088.00 402.70,1483.80" fill="none" stroke="#9b9b9b" stroke-width="3.20" stroke-linejoin="miter"/>
<line x1="385.90" y1="1070.80" x2="385.90" y2="1088.00" stroke="#9b9b9b" stroke-width="2.40" stroke-linecap="butt"/>
<line x1="376.65" y1="1070.80" x2="395.15" y2="1070.80" stroke="#9b9b9b" stroke-width="2.40" stroke-linecap="butt"/>
<polyline points="411.60,1483.80 411.60,1126.50 445.20,1126.50 445.20,1483.80" fill="none" stroke="#3f9bd3" stroke-width="3.20" stroke-linejoin="miter"/>
<line x1="428.40" y1="1104.70" x2="428.40" y2="1126.50" stroke="#3f9bd3" stroke-width="2.40" stroke-linecap="butt"/>
<line x1="419.15" y1="1104.70" x2="437.65" y2="1104.70" stroke="#3f9bd3" stroke-width="2.40" stroke-linecap="butt"/>
<polyline points="480.85,1483.80 480.85,1257.00 514.45,1257.00 514.45,1483.80" fill="none" stroke="#000" stroke-width="3.20" stroke-linejoin="miter"/>
<line x1="497.65" y1="1250.50" x2="497.65" y2="1257.00" stroke="#000" stroke-width="2.40" stroke-linecap="butt"/>
<line x1="488.40" y1="1250.50" x2="506.90" y2="1250.50" stroke="#000" stroke-width="2.40" stroke-linecap="butt"/>
<polyline points="523.35,1483.80 523.35,1203.25 556.95,1203.25 556.95,1483.80" fill="none" stroke="#9b9b9b" stroke-width="3.20" stroke-linejoin="miter"/>
<line x1="540.15" y1="1195.00" x2="540.15" y2="1203.25" stroke="#9b9b9b" stroke-width="2.40" stroke-linecap="butt"/>
<line x1="530.90" y1="1195.00" x2="549.40" y2="1195.00" stroke="#9b9b9b" stroke-width="2.40" stroke-linecap="butt"/>
<polyline points="566.10,1483.80 566.10,1209.25 599.70,1209.25 599.70,1483.80" fill="none" stroke="#3f9bd3" stroke-width="3.20" stroke-linejoin="miter"/>
<line x1="582.90" y1="1194.50" x2="582.90" y2="1209.25" stroke="#3f9bd3" stroke-width="2.40" stroke-linecap="butt"/>
<line x1="573.65" y1="1194.50" x2="592.15" y2="1194.50" stroke="#3f9bd3" stroke-width="2.40" stroke-linecap="butt"/>
<polyline points="637.85,1483.80 637.85,1442.50 671.45,1442.50 671.45,1483.80" fill="none" stroke="#000" stroke-width="3.20" stroke-linejoin="miter"/>
<line x1="654.65" y1="1439.50" x2="654.65" y2="1442.50" stroke="#000" stroke-width="2.40" stroke-linecap="butt"/>
<line x1="645.40" y1="1439.50" x2="663.90" y2="1439.50" stroke="#000" stroke-width="2.40" stroke-linecap="butt"/>
<polyline points="680.35,1483.80 680.35,1442.50 713.95,1442.50 713.95,1483.80" fill="none" stroke="#9b9b9b" stroke-width="3.20" stroke-linejoin="miter"/>
<line x1="697.15" y1="1437.50" x2="697.15" y2="1442.50" stroke="#9b9b9b" stroke-width="2.40" stroke-linecap="butt"/>
<line x1="687.90" y1="1437.50" x2="706.40" y2="1437.50" stroke="#9b9b9b" stroke-width="2.40" stroke-linecap="butt"/>
<polyline points="722.85,1483.80 722.85,1445.50 756.45,1445.50 756.45,1483.80" fill="none" stroke="#3f9bd3" stroke-width="3.20" stroke-linejoin="miter"/>
<line x1="739.65" y1="1442.00" x2="739.65" y2="1445.50" stroke="#3f9bd3" stroke-width="2.40" stroke-linecap="butt"/>
<line x1="730.40" y1="1442.00" x2="748.90" y2="1442.00" stroke="#3f9bd3" stroke-width="2.40" stroke-linecap="butt"/>
<line x1="142.70" y1="1483.80" x2="792.50" y2="1483.80" stroke="#000" stroke-width="3.50" stroke-linecap="butt"/>
<circle cx="175.50" cy="1291.75" r="4.80" fill="#000"/>
<circle cx="188.00" cy="1271.25" r="4.80" fill="#000"/>
<circle cx="202.00" cy="1285.00" r="4.80" fill="#000"/>
<circle cx="217.50" cy="1248.75" r="4.80" fill="#000"/>
<circle cx="230.00" cy="1205.00" r="4.80" fill="#000"/>
<circle cx="242.50" cy="1242.00" r="4.80" fill="#000"/>
<circle cx="272.50" cy="1205.00" r="4.80" fill="#000"/>
<circle cx="272.50" cy="1245.00" r="4.80" fill="#000"/>
<circle cx="272.50" cy="1270.75" r="4.80" fill="#000"/>
<circle cx="331.30" cy="1177.60" r="4.80" fill="#000"/>
<circle cx="343.50" cy="1148.40" r="4.80" fill="#000"/>
<circle cx="355.70" cy="1176.50" r="4.80" fill="#000"/>
<circle cx="373.60" cy="1104.80" r="4.80" fill="#000"/>
<circle cx="385.60" cy="1066.40" r="4.80" fill="#000"/>
<circle cx="397.60" cy="1101.60" r="4.80" fill="#000"/>
<circle cx="428.30" cy="1100.10" r="4.80" fill="#000"/>
<circle cx="428.30" cy="1133.70" r="4.80" fill="#000"/>
<circle cx="428.30" cy="1155.20" r="4.80" fill="#000"/>
<circle cx="486.25" cy="1265.00" r="4.80" fill="#000"/>
<circle cx="498.00" cy="1249.50" r="4.80" fill="#000"/>
<circle cx="510.75" cy="1260.50" r="4.80" fill="#000"/>
<circle cx="540.75" cy="1200.50" r="4.80" fill="#000"/>
<circle cx="540.75" cy="1214.25" r="4.80" fill="#000"/>
<circle cx="553.00" cy="1195.50" r="4.80" fill="#000"/>
<circle cx="582.50" cy="1190.00" r="4.80" fill="#000"/>
<circle cx="582.50" cy="1213.00" r="4.80" fill="#000"/>
<circle cx="582.50" cy="1226.75" r="4.80" fill="#000"/>
<circle cx="642.50" cy="1447.50" r="4.80" fill="#000"/>
<circle cx="654.50" cy="1438.75" r="4.80" fill="#000"/>
<circle cx="667.00" cy="1445.50" r="4.80" fill="#000"/>
<circle cx="684.50" cy="1450.75" r="4.80" fill="#000"/>
<circle cx="696.75" cy="1437.00" r="4.80" fill="#000"/>
<circle cx="709.25" cy="1444.25" r="4.80" fill="#000"/>
<circle cx="727.00" cy="1451.25" r="4.80" fill="#000"/>
<circle cx="740.00" cy="1440.75" r="4.80" fill="#000"/>
<circle cx="752.00" cy="1448.00" r="4.80" fill="#000"/>
<text x="223.38" y="1182.50" font-size="25.00" fill="#1a1a1a" xml:space="preserve">ns</text>
<line x1="189.25" y1="1195.50" x2="276.25" y2="1195.50" stroke="#000" stroke-width="1.80" stroke-linecap="butt"/>
<polyline points="344.30,1128.50 344.30,936.25 411.25,936.25 411.25,947.00" fill="none" stroke="#7e7e7e" stroke-width="1.60" stroke-linejoin="miter"/>
<line x1="381.25" y1="947.00" x2="441.25" y2="947.00" stroke="#7e7e7e" stroke-width="1.60" stroke-linecap="butt"/>
<polyline points="499.30,1234.00 499.30,1053.80 563.00,1053.80 563.00,1070.00" fill="none" stroke="#7e7e7e" stroke-width="1.60" stroke-linejoin="miter"/>
<line x1="532.00" y1="1070.00" x2="596.50" y2="1070.00" stroke="#7e7e7e" stroke-width="1.60" stroke-linecap="butt"/>
<text transform="translate(395.00 1055.61) rotate(-90)" font-size="20.40" fill="#5c5c5c" xml:space="preserve"><tspan font-style="italic">P</tspan><tspan> = 0.0113</tspan></text>
<text transform="translate(437.50 1055.61) rotate(-90)" font-size="20.40" fill="#5c5c5c" xml:space="preserve"><tspan font-style="italic">P</tspan><tspan> = 0.1476</tspan></text>
<text transform="translate(548.40 1178.61) rotate(-90)" font-size="20.40" fill="#5c5c5c" xml:space="preserve"><tspan font-style="italic">P</tspan><tspan> = 0.0050</tspan></text>
<text transform="translate(591.60 1178.61) rotate(-90)" font-size="20.40" fill="#5c5c5c" xml:space="preserve"><tspan font-style="italic">P</tspan><tspan> = 0.0089</tspan></text>
<rect x="638.50" y="994.50" width="20.00" height="19.50" fill="none" stroke="#000" stroke-width="3.00"/>
<text x="667.90" y="1014.30" font-size="29.17" fill="#000" xml:space="preserve">NV (leaf)</text>
<rect x="638.50" y="1040.10" width="20.00" height="19.50" fill="none" stroke="#9b9b9b" stroke-width="3.00"/>
<text x="667.90" y="1059.90" font-size="29.17" fill="#000" xml:space="preserve">V6W (leaf)</text>
<rect x="638.50" y="1085.70" width="20.00" height="19.50" fill="none" stroke="#3f9bd3" stroke-width="3.00"/>
<text x="667.90" y="1105.50" font-size="29.17" fill="#000" xml:space="preserve">V6W+2W (leaf)</text>
<text x="204.33" y="1519.20" font-size="33.33" fill="#000" xml:space="preserve">Pro</text>
<text x="357.33" y="1519.20" font-size="33.33" fill="#000" xml:space="preserve">Ex1</text>
<text x="519.50" y="1519.20" font-size="33.33" fill="#000" xml:space="preserve">In1</text>
<text x="664.17" y="1519.20" font-size="33.33" fill="#000" xml:space="preserve"><tspan font-style="italic">ACT</tspan></text>
<line x1="1107.40" y1="921.28" x2="1107.40" y2="1477.20" stroke="#000" stroke-width="4.40" stroke-linecap="butt"/>
<line x1="1096.40" y1="1475.30" x2="1776.50" y2="1475.30" stroke="#000" stroke-width="3.80" stroke-linecap="butt"/>
<line x1="1096.40" y1="1383.28" x2="1108.40" y2="1383.28" stroke="#000" stroke-width="3.80" stroke-linecap="butt"/>
<line x1="1096.40" y1="1291.26" x2="1108.40" y2="1291.26" stroke="#000" stroke-width="3.80" stroke-linecap="butt"/>
<line x1="1096.40" y1="1199.24" x2="1108.40" y2="1199.24" stroke="#000" stroke-width="3.80" stroke-linecap="butt"/>
<line x1="1096.40" y1="1107.22" x2="1108.40" y2="1107.22" stroke="#000" stroke-width="3.80" stroke-linecap="butt"/>
<line x1="1096.40" y1="1015.20" x2="1108.40" y2="1015.20" stroke="#000" stroke-width="3.80" stroke-linecap="butt"/>
<line x1="1096.40" y1="923.18" x2="1108.40" y2="923.18" stroke="#000" stroke-width="3.80" stroke-linecap="butt"/>
<text x="1072.27" y="1488.20" font-size="33.33" fill="#000" xml:space="preserve">0</text>
<text x="1044.77" y="1398.48" font-size="33.33" fill="#000" xml:space="preserve">0.1</text>
<text x="1044.93" y="1300.66" font-size="33.33" fill="#000" xml:space="preserve">0.2</text>
<text x="1044.60" y="1210.94" font-size="33.33" fill="#000" xml:space="preserve">0.3</text>
<text x="1044.27" y="1121.42" font-size="33.33" fill="#000" xml:space="preserve">0.4</text>
<text x="1044.60" y="1032.20" font-size="33.33" fill="#000" xml:space="preserve">0.5</text>
<text x="1044.60" y="938.08" font-size="33.33" fill="#000" xml:space="preserve">0.6</text>
<text transform="translate(1021.20 1350.92) rotate(-90)" font-size="33.33" fill="#000" xml:space="preserve">% Input (H3K4me3)</text>
<text x="982.90" y="803.30" font-size="50.00" fill="#000" xml:space="preserve"><tspan font-weight="bold">d</tspan></text>
<polyline points="1126.60,1475.30 1126.60,1367.50 1160.40,1367.50 1160.40,1475.30" fill="none" stroke="#000" stroke-width="3.20" stroke-linejoin="miter"/>
<line x1="1143.50" y1="1364.50" x2="1143.50" y2="1367.50" stroke="#000" stroke-width="2.40" stroke-linecap="butt"/>
<line x1="1134.25" y1="1364.50" x2="1152.75" y2="1364.50" stroke="#000" stroke-width="2.40" stroke-linecap="butt"/>
<polyline points="1169.10,1475.30 1169.10,1423.75 1202.90,1423.75 1202.90,1475.30" fill="none" stroke="#9b9b9b" stroke-width="3.20" stroke-linejoin="miter"/>
<line x1="1186.00" y1="1418.25" x2="1186.00" y2="1423.75" stroke="#9b9b9b" stroke-width="2.40" stroke-linecap="butt"/>
<line x1="1176.75" y1="1418.25" x2="1195.25" y2="1418.25" stroke="#9b9b9b" stroke-width="2.40" stroke-linecap="butt"/>
<polyline points="1212.10,1475.30 1212.10,1427.50 1245.90,1427.50 1245.90,1475.30" fill="none" stroke="#3f9bd3" stroke-width="3.20" stroke-linejoin="miter"/>
<line x1="1229.00" y1="1423.75" x2="1229.00" y2="1427.50" stroke="#3f9bd3" stroke-width="2.40" stroke-linecap="butt"/>
<line x1="1219.75" y1="1423.75" x2="1238.25" y2="1423.75" stroke="#3f9bd3" stroke-width="2.40" stroke-linecap="butt"/>
<polyline points="1293.35,1475.30 1293.35,1065.00 1327.15,1065.00 1327.15,1475.30" fill="none" stroke="#000" stroke-width="3.20" stroke-linejoin="miter"/>
<line x1="1310.25" y1="1022.00" x2="1310.25" y2="1065.00" stroke="#000" stroke-width="2.40" stroke-linecap="butt"/>
<line x1="1301.00" y1="1022.00" x2="1319.50" y2="1022.00" stroke="#000" stroke-width="2.40" stroke-linecap="butt"/>
<polyline points="1336.60,1475.30 1336.60,1278.00 1370.40,1278.00 1370.40,1475.30" fill="none" stroke="#9b9b9b" stroke-width="3.20" stroke-linejoin="miter"/>
<line x1="1353.50" y1="1257.50" x2="1353.50" y2="1278.00" stroke="#9b9b9b" stroke-width="2.40" stroke-linecap="butt"/>
<line x1="1344.25" y1="1257.50" x2="1362.75" y2="1257.50" stroke="#9b9b9b" stroke-width="2.40" stroke-linecap="butt"/>
<polyline points="1379.10,1475.30 1379.10,1258.25 1412.90,1258.25 1412.90,1475.30" fill="none" stroke="#3f9bd3" stroke-width="3.20" stroke-linejoin="miter"/>
<line x1="1396.00" y1="1248.00" x2="1396.00" y2="1258.25" stroke="#3f9bd3" stroke-width="2.40" stroke-linecap="butt"/>
<line x1="1386.75" y1="1248.00" x2="1405.25" y2="1248.00" stroke="#3f9bd3" stroke-width="2.40" stroke-linecap="butt"/>
<polyline points="1459.35,1475.30 1459.35,1405.50 1493.15,1405.50 1493.15,1475.30" fill="none" stroke="#000" stroke-width="3.20" stroke-linejoin="miter"/>
<line x1="1476.25" y1="1397.50" x2="1476.25" y2="1405.50" stroke="#000" stroke-width="2.40" stroke-linecap="butt"/>
<line x1="1467.00" y1="1397.50" x2="1485.50" y2="1397.50" stroke="#000" stroke-width="2.40" stroke-linecap="butt"/>
<polyline points="1502.85,1475.30 1502.85,1428.75 1536.65,1428.75 1536.65,1475.30" fill="none" stroke="#9b9b9b" stroke-width="3.20" stroke-linejoin="miter"/>
<line x1="1519.75" y1="1422.00" x2="1519.75" y2="1428.75" stroke="#9b9b9b" stroke-width="2.40" stroke-linecap="butt"/>
<line x1="1510.50" y1="1422.00" x2="1529.00" y2="1422.00" stroke="#9b9b9b" stroke-width="2.40" stroke-linecap="butt"/>
<polyline points="1545.60,1475.30 1545.60,1425.75 1579.40,1425.75 1579.40,1475.30" fill="none" stroke="#3f9bd3" stroke-width="3.20" stroke-linejoin="miter"/>
<polyline points="1620.35,1475.30 1620.35,1338.25 1654.15,1338.25 1654.15,1475.30" fill="none" stroke="#000" stroke-width="3.20" stroke-linejoin="miter"/>
<line x1="1637.25" y1="1334.25" x2="1637.25" y2="1338.25" stroke="#000" stroke-width="2.40" stroke-linecap="butt"/>
<line x1="1628.00" y1="1334.25" x2="1646.50" y2="1334.25" stroke="#000" stroke-width="2.40" stroke-linecap="butt"/>
<polyline points="1662.85,1475.30 1662.85,1371.25 1696.65,1371.25 1696.65,1475.30" fill="none" stroke="#9b9b9b" stroke-width="3.20" stroke-linejoin="miter"/>
<line x1="1679.75" y1="1352.50" x2="1679.75" y2="1371.25" stroke="#9b9b9b" stroke-width="2.40" stroke-linecap="butt"/>
<line x1="1670.50" y1="1352.50" x2="1689.00" y2="1352.50" stroke="#9b9b9b" stroke-width="2.40" stroke-linecap="butt"/>
<polyline points="1705.60,1475.30 1705.60,1347.00 1739.40,1347.00 1739.40,1475.30" fill="none" stroke="#3f9bd3" stroke-width="3.20" stroke-linejoin="miter"/>
<line x1="1722.50" y1="1332.50" x2="1722.50" y2="1347.00" stroke="#3f9bd3" stroke-width="2.40" stroke-linecap="butt"/>
<line x1="1713.25" y1="1332.50" x2="1731.75" y2="1332.50" stroke="#3f9bd3" stroke-width="2.40" stroke-linecap="butt"/>
<line x1="1096.40" y1="1475.30" x2="1776.50" y2="1475.30" stroke="#000" stroke-width="3.80" stroke-linecap="butt"/>
<circle cx="1131.25" cy="1374.25" r="4.80" fill="#000"/>
<circle cx="1143.25" cy="1364.25" r="4.80" fill="#000"/>
<circle cx="1155.75" cy="1368.25" r="4.80" fill="#000"/>
<circle cx="1174.25" cy="1430.00" r="4.80" fill="#000"/>
<circle cx="1186.25" cy="1415.75" r="4.80" fill="#000"/>
<circle cx="1198.25" cy="1428.75" r="4.80" fill="#000"/>
<circle cx="1216.75" cy="1433.75" r="4.80" fill="#000"/>
<circle cx="1229.50" cy="1422.00" r="4.80" fill="#000"/>
<circle cx="1242.00" cy="1430.50" r="4.80" fill="#000"/>
<circle cx="1310.50" cy="1015.75" r="4.80" fill="#000"/>
<circle cx="1310.50" cy="1063.75" r="4.80" fill="#000"/>
<circle cx="1310.50" cy="1121.75" r="4.80" fill="#000"/>
<circle cx="1340.75" cy="1266.25" r="4.80" fill="#000"/>
<circle cx="1353.00" cy="1311.25" r="4.80" fill="#000"/>
<circle cx="1365.00" cy="1265.00" r="4.80" fill="#000"/>
<circle cx="1383.75" cy="1251.25" r="4.80" fill="#000"/>
<circle cx="1395.75" cy="1275.00" r="4.80" fill="#000"/>
<circle cx="1408.00" cy="1253.25" r="4.80" fill="#000"/>
<circle cx="1464.50" cy="1415.00" r="4.80" fill="#000"/>
<circle cx="1476.50" cy="1395.00" r="4.80" fill="#000"/>
<circle cx="1488.25" cy="1409.25" r="4.80" fill="#000"/>
<circle cx="1507.50" cy="1437.50" r="4.80" fill="#000"/>
<circle cx="1519.50" cy="1421.75" r="4.80" fill="#000"/>
<circle cx="1532.00" cy="1428.75" r="4.80" fill="#000"/>
<circle cx="1550.00" cy="1427.50" r="4.80" fill="#000"/>
<circle cx="1562.00" cy="1425.00" r="4.80" fill="#000"/>
<circle cx="1574.50" cy="1426.25" r="4.80" fill="#000"/>
<circle cx="1624.50" cy="1343.25" r="4.80" fill="#000"/>
<circle cx="1636.50" cy="1332.00" r="4.80" fill="#000"/>
<circle cx="1648.75" cy="1342.50" r="4.80" fill="#000"/>
<circle cx="1673.25" cy="1360.75" r="4.80" fill="#000"/>
<circle cx="1685.75" cy="1357.00" r="4.80" fill="#000"/>
<circle cx="1673.25" cy="1397.00" r="4.80" fill="#000"/>
<circle cx="1710.00" cy="1337.50" r="4.80" fill="#000"/>
<circle cx="1722.00" cy="1368.00" r="4.80" fill="#000"/>
<circle cx="1734.50" cy="1338.25" r="4.80" fill="#000"/>
<polyline points="1310.70,1003.00 1310.70,989.70 1374.20,989.70 1374.20,1122.30" fill="none" stroke="#7e7e7e" stroke-width="1.60" stroke-linejoin="miter"/>
<line x1="1343.80" y1="1122.30" x2="1407.50" y2="1122.30" stroke="#7e7e7e" stroke-width="1.60" stroke-linecap="butt"/>
<text transform="translate(1360.00 1231.61) rotate(-90)" font-size="20.40" fill="#5c5c5c" xml:space="preserve"><tspan font-style="italic">P</tspan><tspan> = 0.0007</tspan></text>
<text transform="translate(1403.60 1231.61) rotate(-90)" font-size="20.40" fill="#5c5c5c" xml:space="preserve"><tspan font-style="italic">P</tspan><tspan> = 0.0012</tspan></text>
<rect x="1541.75" y="986.00" width="20.50" height="20.00" fill="none" stroke="#000" stroke-width="3.00"/>
<text x="1571.90" y="1006.30" font-size="29.17" fill="#000" xml:space="preserve">NV (leaf)</text>
<rect x="1541.75" y="1031.90" width="20.50" height="20.00" fill="none" stroke="#9b9b9b" stroke-width="3.00"/>
<text x="1571.90" y="1052.20" font-size="29.17" fill="#000" xml:space="preserve">V6W (leaf)</text>
<rect x="1541.75" y="1077.80" width="20.50" height="20.00" fill="none" stroke="#3f9bd3" stroke-width="3.00"/>
<text x="1571.90" y="1098.10" font-size="29.17" fill="#000" xml:space="preserve">V6W+2W (leaf)</text>
<text x="1161.03" y="1508.75" font-size="33.33" fill="#000" xml:space="preserve">Pro</text>
<text x="1330.53" y="1508.75" font-size="33.33" fill="#000" xml:space="preserve">Ex1</text>
<text x="1501.20" y="1508.75" font-size="33.33" fill="#000" xml:space="preserve">In1</text>
<text x="1627.67" y="1508.75" font-size="33.33" fill="#000" xml:space="preserve"><tspan font-style="italic">APSM1</tspan></text>
</svg>
</body></html>
